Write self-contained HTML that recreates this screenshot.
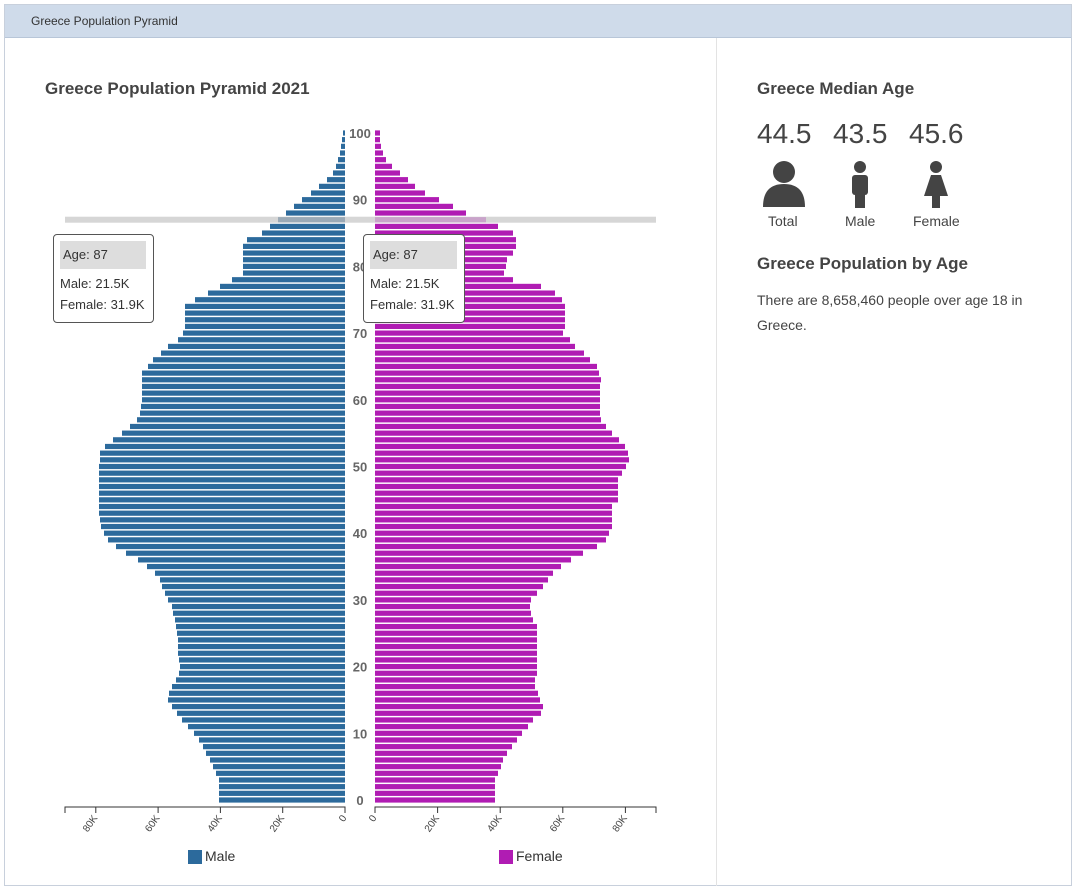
<!DOCTYPE html>
<html><head><meta charset="utf-8"><style>
body{margin:0;width:1077px;height:891px;background:#fff;font-family:"Liberation Sans",sans-serif;position:relative;overflow:hidden;color:#333}
.outer{position:absolute;left:4px;top:4px;width:1068px;height:882px;border:1px solid #c8d0dc;box-sizing:border-box}
.hdr{position:absolute;left:5px;top:5px;width:1066px;height:33px;background:#cfdbea;border-bottom:1px solid #b8c6d8;font-size:12px;line-height:33px;padding-left:26px;box-sizing:border-box;color:#333}
.div{position:absolute;left:716px;top:38px;width:1px;height:848px;background:#e3e3e3}
.t{position:absolute;white-space:nowrap}
</style></head><body>
<div class="outer"></div>
<div class="hdr">Greece Population Pyramid</div>
<div class="div"></div>
<div class="t" style="left:45px;top:79px;font-size:17px;font-weight:bold;color:#444">Greece Population Pyramid 2021</div>
<div class="t" style="left:757px;top:79px;font-size:17px;font-weight:bold;color:#444">Greece Median Age</div>
<div class="t" style="left:757px;top:118px;font-size:28px;color:#444">44.5</div>
<div class="t" style="left:833px;top:118px;font-size:28px;color:#444">43.5</div>
<div class="t" style="left:909px;top:118px;font-size:28px;color:#444">45.6</div>
<svg style="position:absolute;left:0;top:0" width="1077" height="891">
<g fill="#444">
<circle cx="784" cy="172" r="11"/><path d="M763 207 Q763 184 784 184 Q805 184 805 207 Z"/>
<circle cx="860" cy="167" r="6"/><rect x="852" y="175" width="16" height="20" rx="3"/><rect x="855" y="193" width="10" height="15"/>
<circle cx="936" cy="167" r="6"/><path d="M931 175 L941 175 L948 196 L924 196 Z"/><rect x="932" y="195" width="8" height="13"/>
</g>
<g id="bars"></g>
</svg>
<div class="t" style="left:768px;top:213px;font-size:14px;color:#444">Total</div>
<div class="t" style="left:845px;top:213px;font-size:14px;color:#444">Male</div>
<div class="t" style="left:913px;top:213px;font-size:14px;color:#444">Female</div>
<div class="t" style="left:757px;top:254px;font-size:17px;font-weight:bold;color:#444">Greece Population by Age</div>
<div class="t" style="left:757px;top:288px;font-size:14px;line-height:25px;color:#444;white-space:normal;width:290px">There are 8,658,460 people over age 18 in Greece.</div>
<div style="position:absolute;left:53px;top:234px;width:99px;height:87px;border:1px solid #555;border-radius:4px;background:#fff;font-size:13px">
<div style="position:absolute;left:6px;top:6px;width:86px;height:28px;background:#ddd;line-height:28px;padding-left:3px;box-sizing:border-box">Age: 87</div>
<div style="position:absolute;left:6px;top:41px">Male: 21.5K</div><div style="position:absolute;left:6px;top:62px">Female: 31.9K</div></div>
<div style="position:absolute;left:363px;top:234px;width:100px;height:87px;border:1px solid #555;border-radius:4px;background:#fff;font-size:13px">
<div style="position:absolute;left:6px;top:6px;width:87px;height:28px;background:#ddd;line-height:28px;padding-left:3px;box-sizing:border-box">Age: 87</div>
<div style="position:absolute;left:6px;top:41px">Male: 21.5K</div><div style="position:absolute;left:6px;top:62px">Female: 31.9K</div></div>
<div style="position:absolute;left:188px;top:850px;width:14px;height:14px;background:#2c6a9c"></div>
<div class="t" style="left:205px;top:848px;font-size:14px">Male</div>
<div style="position:absolute;left:499px;top:850px;width:14px;height:14px;background:#b01cb3"></div>
<div class="t" style="left:516px;top:848px;font-size:14px">Female</div>
<script>
var M=[219,219,219,219,216,213,210,206,203,199,194,188,182,177,172,168,169,172,176,179,180,179,178,178,178,177,176,175,173,172,168,165,162,160,155,147,138,126,116,108,104,101,100,99,99,99,99,99,99,99,99,100,100,105,113,122,130,137,140,141,142,142,142,142,142,148,153,161,168,178,183,185,185,185,185,195,208,220,232,243,243,243,243,243,247,262,270,278,286,294,302,311,319,327,333,336,338,340,341,342,343];
var F=[495,495,495,495,498,501,503,507,512,517,522,528,533,541,543,540,538,535,535,537,537,537,537,537,537,537,537,533,531,530,531,537,543,548,553,561,571,583,597,606,609,612,612,612,612,618,618,618,618,622,626,629,628,625,619,612,606,601,600,600,600,600,600,601,599,597,590,584,575,570,563,565,565,565,565,562,555,541,513,504,506,507,513,516,516,513,498,486,466,453,439,425,415,408,400,392,386,383,381,380,380];
var s='';
var yc=function(a){return 800-a*6.67};
s+='<rect x="65" y="'+(yc(87)-3)+'" width="591" height="6" fill="#d6d6d6"/>';
for(var a=0;a<=100;a++){var y=yc(a)-2.6;
var cm=a==87?'#9aa9b6':'#2c6a9c',cf=a==87?'#c9a3ca':'#b01cb3';
s+='<rect x="'+M[a]+'" y="'+y+'" width="'+(345-M[a])+'" height="5.2" fill="'+cm+'"/>';
s+='<rect x="375" y="'+y+'" width="'+(F[a]-375)+'" height="5.2" fill="'+cf+'"/>';
if(a%10==0)s+='<text x="360" y="'+(yc(a)+5)+'" text-anchor="middle" font-size="13" font-weight="bold" fill="#666" font-family="Liberation Sans" style="paint-order:stroke" stroke="#fff" stroke-width="3">'+a+'</text>';}
s+='<path d="M65 813V807H345V813M375 813V807H656V813" fill="none" stroke="#333"/>';
var lk=['0','20K','40K','60K','80K'];
for(var i=0;i<5;i++){var xl=345-i*62.3,xr=375+i*62.6;
s+='<line x1="'+xl+'" y1="807" x2="'+xl+'" y2="813" stroke="#333"/><line x1="'+xr+'" y1="807" x2="'+xr+'" y2="813" stroke="#333"/>';
s+='<text transform="translate('+(xl+2)+',818) rotate(-55)" text-anchor="end" font-size="10" fill="#444" font-family="Liberation Sans">'+lk[i]+'</text>';
s+='<text transform="translate('+(xr+2)+',818) rotate(-55)" text-anchor="end" font-size="10" fill="#444" font-family="Liberation Sans">'+lk[i]+'</text>';}
document.getElementById('bars').innerHTML=s;
</script>
</body></html>
